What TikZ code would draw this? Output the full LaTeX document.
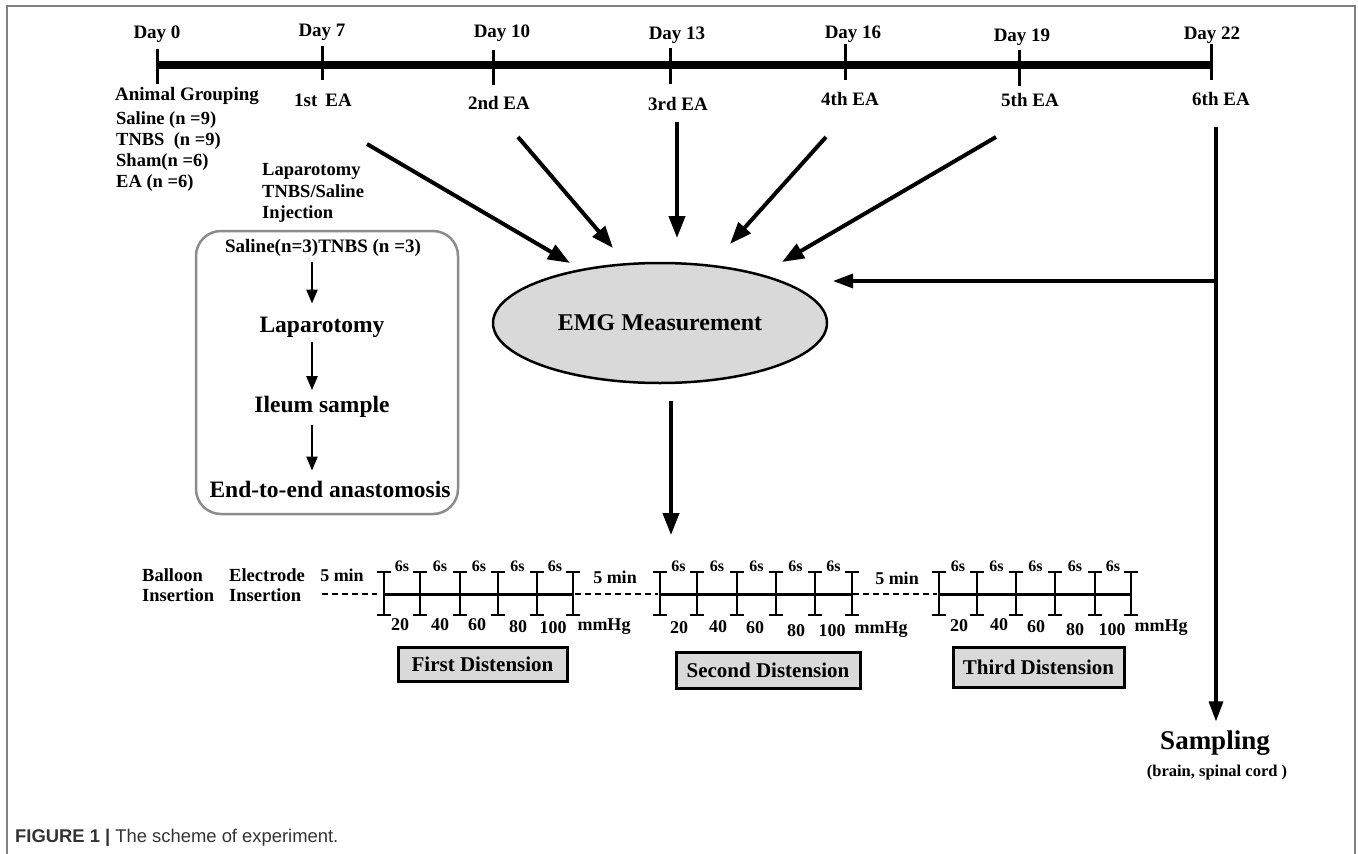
\documentclass[tikz,border=0pt]{standalone}
\usepackage{fontspec}
\setmainfont{Liberation Serif}
\newfontfamily\capfont{Liberation Sans}
\usetikzlibrary{arrows.meta,shapes.geometric}
\definecolor{boxgray}{HTML}{D9D9D9}
\definecolor{framegray}{HTML}{808080}
\definecolor{roundgray}{HTML}{8C8C8C}
\definecolor{captxt}{HTML}{333333}
\begin{document}
\begin{tikzpicture}[x=1pt,y=-1pt,
  lbl/.style={font=\fontsize{19}{22}\selectfont\bfseries, inner sep=0pt},
  num/.style={font=\fontsize{18}{20}\selectfont\bfseries, inner sep=0pt},
  small/.style={font=\fontsize{16}{18}\selectfont\bfseries, inner sep=0pt},
  big/.style={font=\fontsize{23.5}{26}\selectfont\bfseries, inner sep=0pt},
  bigarrow/.style={line width=4pt, -{Triangle[length=22pt,width=16pt]}},
  midarrow/.style={line width=3.2pt, -{Triangle[length=20pt,width=14pt]}},
  smallarrow/.style={line width=2.5pt, -{Triangle[length=14pt,width=11pt]}},
  tickline/.style={line width=3pt},
  ibeam/.style={line width=2.5pt},
  dashline/.style={line width=2pt, dash pattern=on 6pt off 4pt},
  distbox/.style={draw, fill=boxgray, line width=3pt, inner sep=0pt,
    font=\fontsize{21}{23}\selectfont\bfseries}
]
\useasboundingbox (0,0) rectangle (1358,854);
% frame
\draw[framegray, line width=2pt] (7,854) -- (7,6) -- (1355,6) -- (1355,854);

% timeline
\draw[line width=8pt] (157,65) -- (1213,65);
\foreach \x/\ya/\yb in {157/49/84, 322/46/80, 493/50/85, 670/48/84, 845/44/80, 1019/50/86, 1211/44/80}
  \draw[tickline] (\x,\ya) -- (\x,\yb);
\node[lbl] (d0) at (157,34) {Day 0};
\node[lbl] (d7) at (322,32) {Day 7};
\node[lbl] (d10) at (502,33) {Day 10};
\node[lbl] (d13) at (677,35) {Day 13};
\node[lbl] (d16) at (853,34) {Day 16};
\node[lbl] (d19) at (1022,37) {Day 19};
\node[lbl] (d22) at (1212,35) {Day 22};

\node[lbl] (ag) at (187,96) {Animal Grouping};
\node[lbl] (e1) at (323,100) {1st\, EA};
\node[lbl] (e2) at (499,103) {2nd EA};
\node[lbl] (e3) at (678,104) {3rd EA};
\node[lbl] (e4) at (850,99) {4th EA};
\node[lbl] (e5) at (1030,100) {5th EA};
\node[lbl] (e6) at (1221,99) {6th EA};

\node[lbl, anchor=west, align=left, font=\fontsize{18.5}{21.3}\selectfont\bfseries] (groups) at (116,151.5)
  {Saline (n =9)\\TNBS\ \ (n =9)\\Sham(n =6)\\EA (n =6)};
\node[lbl, anchor=west, align=left, font=\fontsize{18.5}{21.5}\selectfont\bfseries] (lapinj) at (262,193)
  {Laparotomy\\TNBS/Saline\\Injection};

% rounded box
\draw[roundgray, line width=2.5pt, rounded corners=25pt] (196,231) rectangle (458,514);
\coordinate (col) at (312,0);
\node[lbl] (s3) at (323,248) {Saline(n=3)TNBS (n =3)};
\node[big] (lap) at (322,327) {Laparotomy};
\node[big] (ileum) at (322,407) {Ileum sample};
\node[big] (end) at (330,489) {End-to-end anastomosis};
\draw[smallarrow, shorten <=5pt, shorten >=13pt] (s3.south -| col) -- (lap.north -| col);
\draw[smallarrow, shorten <=5pt, shorten >=6pt] (lap.south -| col) -- (ileum.north -| col);
\draw[smallarrow, shorten <=7pt, shorten >=10pt] (ileum.south -| col) -- (end.north -| col);

% EMG
\node[ellipse, draw, fill=boxgray, line width=2.5pt, minimum width=334pt, minimum height=120pt,
  inner sep=0pt, font=\fontsize{24}{27}\selectfont\bfseries] (emg) at (660,323) {EMG Measurement};

\coordinate (a1s) at (367,144); \coordinate (a1e) at (570,263);
\coordinate (a2s) at (518,137); \coordinate (a2e) at (613,248);
\coordinate (a3s) at (677,122); \coordinate (a3e) at (677,238);
\coordinate (a4s) at (826,137); \coordinate (a4e) at (730,244);
\coordinate (a5s) at (996,137); \coordinate (a5e) at (782,262);
\draw[bigarrow] (a1s) -- (a1e);
\draw[bigarrow] (a2s) -- (a2e);
\draw[bigarrow] (a3s) -- (a3e);
\draw[bigarrow] (a4s) -- (a4e);
\draw[bigarrow] (a5s) -- (a5e);

% 6th EA line
\coordinate (e6s) at (1216,127);
\coordinate (br) at (1216,281);
\coordinate (bre) at (833,281);
\node[font=\fontsize{27}{30}\selectfont\bfseries, inner sep=0pt] (samp) at (1215,743) {Sampling};
\node[font=\fontsize{16.5}{19}\selectfont\bfseries, inner sep=0pt] (sampsub) at (1217,773) {(brain, spinal cord )};
\draw[midarrow, shorten >=9pt] (e6s) -- (e6s |- samp.north);
\draw[midarrow] (br) -- (bre);

% down arrow to distension
\coordinate (dist) at (671,535);
\draw[bigarrow, shorten <=17pt] (emg.south -| dist) -- (dist);

% distension protocol
\node[lbl, anchor=west, align=left, font=\fontsize{18.5}{20}\selectfont\bfseries] (balloon) at (142,585) {Balloon\\Insertion};
\node[lbl, anchor=west, align=left, font=\fontsize{18.5}{20}\selectfont\bfseries] (electrode) at (229,585) {Electrode\\Insertion};
\node[num] (m1) at (342,575) {5 min};
\node[num] (m2) at (615,577) {5 min};
\node[num] (m3) at (897,578) {5 min};

\draw[dashline] (322,594) -- (377,594);
\draw[dashline] (575,594) -- (658,594);
\draw[dashline] (853,594) -- (937,594);

\foreach \a/\b/\c/\d/\e/\f in {384/420/460/498/537/573, 660/697/737/776/815/852, 939/977/1016/1055/1095/1131}{
  \draw[line width=3pt] (\a,594) -- (\f,594);
  \foreach \t in {\a,\b,\c,\d,\e,\f}{
    \draw[ibeam] (\t-7,572) -- (\t+7,572) (\t,572) -- (\t,615) (\t-7,615) -- (\t+7,615);
  }
  \node[small] at ({(\a+\b)/2},566) {6s};
  \node[small] at ({(\b+\c)/2},566) {6s};
  \node[small] at ({(\c+\d)/2},566) {6s};
  \node[small] at ({(\d+\e)/2},566) {6s};
  \node[small] at ({(\e+\f)/2},566) {6s};
}

\foreach \x/\y/\t in {400/625/20, 440/625/40, 477/625/60, 518/627/80, 553/628/100, 604/627/mmHg,
  679/628/20, 718/627/40, 755/628/60, 796/631/80, 832/631/100, 881/630/mmHg,
  959/626/20, 999/625/40, 1036/627/60, 1075/630/80, 1112/630/100, 1161/628/mmHg}
  \node[num] at (\x,\y) {\t};

\node[distbox, minimum width=169pt, minimum height=34pt] (fd) at (482.5,664) {First Distension};
\node[distbox, minimum width=184pt, minimum height=36pt] (sd) at (768,670) {Second Distension};
\node[distbox, minimum width=171pt, minimum height=40pt] (td) at (1038.5,667) {Third Distension};

% caption
\node[anchor=west, inner sep=0pt, text=captxt, font=\capfont\fontsize{18.4}{20}\selectfont] (cap) at (15,838)
  {\textbf{FIGURE 1 |} The scheme of experiment.};
\end{tikzpicture}
\end{document}
